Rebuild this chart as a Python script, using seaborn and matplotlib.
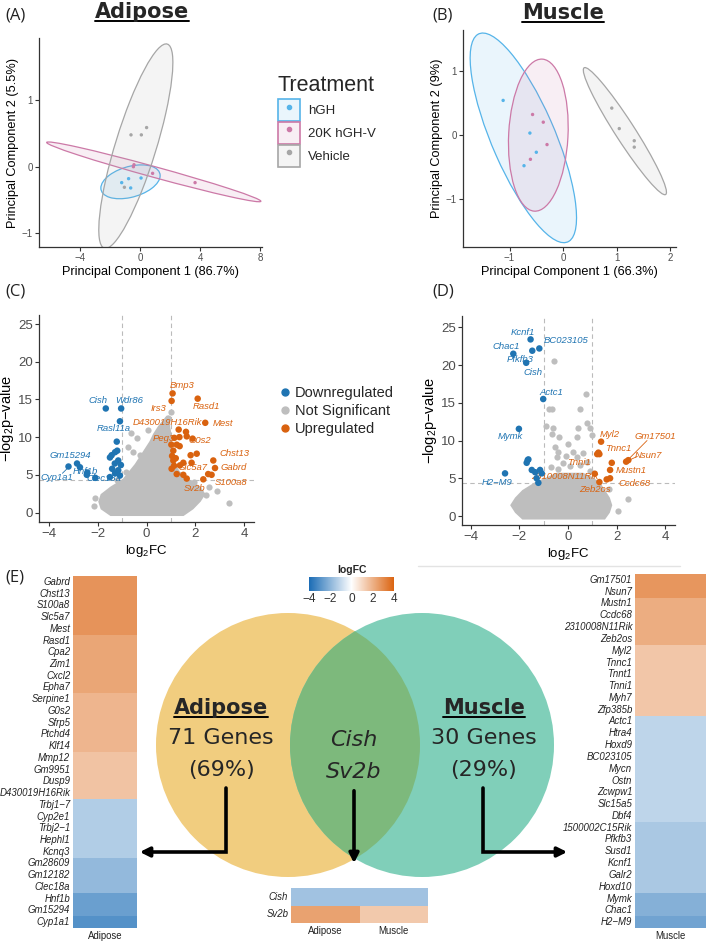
import numpy as np
import pandas as pd
import seaborn as sns
import matplotlib.pyplot as plt
from matplotlib.colors import LinearSegmentedColormap, to_rgba
from matplotlib.lines import Line2D
from matplotlib.patches import Circle, Ellipse, Patch

W, H = 709, 941

# ---------------- PCA scores (A adipose, B muscle) ----------------
treatments = ["hGH", "20K hGH-V", "Vehicle"]
pca_colors = ["#56B4E9", "#CC79A7", "#A6A6A6"]
pca_groups = ["hGH"] * 4 + ["20K hGH-V"] * 4 + ["Vehicle"] * 4
adipose_pc1 = [-1.22, -0.76, -0.62, 0.07, -0.44, -0.40, 0.84, 3.67, -0.60, 0.09, 0.44, -1.04]
adipose_pc2 = [-0.24, -0.18, -0.32, -0.17, 0.00, 0.03, -0.10, -0.24, 0.48, 0.48, 0.59, -0.31]
muscle_pc1 = [-1.12, -0.62, -0.50, -0.73, -0.57, -0.37, -0.30, -0.61, 0.91, 1.05, 1.33, 1.33]
muscle_pc2 = [0.54, 0.03, -0.27, -0.48, 0.32, 0.20, -0.15, -0.38, 0.42, 0.10, -0.09, -0.19]
ELLIPSE_R = 3.7  # radius of the confidence ellipse in sd units

# ---------------- volcano data ----------------
status_labels = ["Downregulated", "Not Significant", "Upregulated"]
vol_colors = ["#1F74B2", "#BEBEBE", "#D9620F"]

# adipose (C)
c_down_x = [-1.67, -1.04, -1.09, -1.22, -1.20, -1.43, -1.50, -1.29, -2.85, -2.73, -3.20, -2.43,
            -2.45, -2.10, -1.41, -1.16, -1.29, -1.09, -1.50, -1.16, -1.05, -1.30]
c_down_y = [13.8, 13.8, 12.1, 9.4, 8.2, 7.6, 7.3, 8.0, 6.5, 6.0, 6.1, 5.3,
            5.0, 4.6, 5.8, 5.6, 5.2, 4.9, 4.7, 6.9, 6.3, 6.5]
c_up_x = [1.07, 1.03, 2.10, 2.41, 1.32, 1.62, 1.65, 1.35, 1.14, 1.89, 1.24, 1.36, 1.81, 2.06,
          2.74, 2.81, 2.53, 2.67, 2.33, 1.85, 1.10, 1.13, 1.24, 1.51, 1.65, 1.03, 1.37, 1.51,
          1.05, 1.10, 1.02, 1.20]
c_up_y = [15.8, 14.8, 15.1, 11.9, 11.0, 10.7, 10.1, 10.0, 9.9, 9.8, 9.0, 8.8, 7.6, 7.8,
          6.9, 5.9, 5.1, 5.0, 4.4, 6.6, 6.9, 6.2, 5.1, 5.0, 4.5, 5.8, 6.25, 6.6,
          7.5, 8.2, 9.0, 7.2]
c_grey_x = [-0.64, -0.38, -0.75, -0.54, -0.27, 0.90, 1.00, 3.39, 2.88, 2.55, 2.45, -2.15, -2.10,
            -1.20, 1.95, 2.00, 0.05, -0.85]
c_grey_y = [10.6, 9.9, 8.7, 8.0, 7.6, 12.6, 13.3, 1.2, 2.9, 3.4, 2.3, 0.8, 1.9,
            4.3, 4.0, 3.2, 11.0, 5.4]
# envelope of the dense non-significant cloud
c_env_y = [-0.4, 0.5, 1.5, 2.5, 3.5, 4.5, 5.5, 6.5, 7.5, 8.5, 9.5, 10.5, 11.5, 12.3, 12.9]
c_env_left = [-1.5, -1.9, -2.0, -1.9, -1.5, -1.0, -0.75, -0.5, -0.3, -0.1, 0.1, 0.25, 0.45, 0.65, 0.8]
c_env_right = [1.5, 1.9, 2.2, 2.4, 2.2, 1.7, 1.35, 1.15, 1.05, 1.0, 1.0, 1.0, 0.95, 0.95, 0.9]
c_lab_gene = ["Cish", "Wdr86", "Rasl11a", "Gm15294", "Hnf1b", "Cyp1a1", "Clec18a",
              "Bmp3", "Irs3", "Rasd1", "D430019H16Rik", "Mest", "Peg3", "G0s2", "Chst13",
              "Slc5a7", "Gabrd", "S100a8", "Sv2b"]
c_lab_x = [-1.98, -0.72, -1.36, -3.13, -2.52, -3.67, -1.77,
           1.44, 0.51, 2.44, 0.85, 3.15, 0.69, 2.19, 3.60, 1.90, 3.56, 3.46, 1.99]
c_lab_y = [14.85, 14.85, 11.1, 7.6, 5.5, 4.6, 4.5,
           16.8, 13.8, 14.0, 11.9, 11.8, 9.8, 9.6, 7.8, 5.95, 5.95, 3.95, 3.15]
c_lab_dir = ["down"] * 7 + ["up"] * 12
c_links = [(-3.45, 5.2, -3.2, 6.0)]

# muscle (D)
d_down_x = [-1.54, -1.18, -1.47, -2.25, -1.72, -1.02, -2.02, -1.63, -1.66, -1.70, -2.59, -1.49,
            -1.15, -1.29, -1.22, -1.08, -1.35]
d_down_y = [23.4, 22.2, 21.9, 21.5, 20.3, 15.5, 11.55, 7.5, 7.4, 7.05, 5.65, 6.1,
            6.1, 5.0, 4.4, 5.65, 5.8]
d_up_x = [1.36, 1.25, 1.20, 1.29, 2.48, 2.39, 1.73, 1.80, 1.73, 1.29, 1.59, 1.10]
d_up_y = [9.85, 8.4, 8.2, 8.2, 7.4, 7.2, 6.1, 7.05, 5.0, 4.5, 4.85, 5.6]
d_grey_x = [-0.58, 0.73, -0.78, -0.67, 0.49, -0.92, -0.60, 0.42, 0.77, 0.90, 0.98, -0.67, -0.36,
            0.36, -0.53, -0.40, -0.47, 0.22, 0.36, 0.63, -0.20, 0.10, 0.50, 0.80, -0.70, -0.40,
            0.90, 2.48, 2.07, 1.70, 0.00, -0.10]
d_grey_y = [20.5, 16.2, 14.2, 14.2, 14.2, 11.9, 11.7, 11.7, 12.3, 11.6, 10.7, 10.9, 10.5,
            10.5, 9.2, 8.5, 7.85, 8.5, 7.85, 8.3, 7.0, 6.6, 6.8, 7.2, 6.5, 6.2,
            6.0, 2.3, 0.6, 3.6, 9.5, 8.0]
d_env_y = [-0.4, 0.5, 1.5, 2.5, 3.5, 4.5, 5.2, 5.8]
d_env_left = [-1.9, -2.2, -2.4, -2.2, -1.9, -1.4, -0.9, -0.5]
d_env_right = [1.5, 1.7, 1.8, 1.7, 1.5, 1.3, 1.0, 0.6]
d_lab_gene = ["Kcnf1", "BC023105", "Chac1", "Pfkfb3", "Cish", "Actc1", "Mymk", "H2\u2212M9",
              "Myl2", "Gm17501", "Tnnc1", "Nsun7", "Tnni1", "Mustn1", "2310008N11Rik",
              "Ccdc68", "Zeb2os"]
d_lab_x = [-1.86, -0.09, -2.55, -1.98, -1.43, -0.67, -2.36, -2.93,
           1.73, 3.58, 2.07, 3.30, 0.45, 2.58, -0.12, 2.72, 1.11]
d_lab_y = [24.3, 23.2, 22.5, 20.7, 19.0, 16.4, 10.5, 4.45,
           10.8, 10.6, 9.0, 8.05, 7.1, 6.0, 5.3, 4.3, 3.5]
d_lab_dir = ["down"] * 8 + ["up"] * 9
d_links = [(3.25, 10.0, 2.45, 7.4), (2.85, 7.9, 2.55, 7.45)]

# ---------------- heatmaps (logFC) ----------------
adipose_genes = ["Gabrd", "Chst13", "S100a8", "Slc5a7", "Mest", "Rasd1", "Cpa2", "Zim1", "Cxcl2",
                 "Epha7", "Serpine1", "G0s2", "Sfrp5", "Ptchd4", "Klf14", "Mmp12", "Gm9951",
                 "Dusp9", "D430019H16Rik", "Trbj1\u22127", "Cyp2e1", "Trbj2\u22121", "Hephl1",
                 "Kcnq3", "Gm28609", "Gm12182", "Clec18a", "Hnf1b", "Gm15294", "Cyp1a1"]
adipose_fc = [2.75, 2.75, 2.75, 2.75, 2.75, 2.3, 2.3, 2.3, 2.3, 2.3, 1.9, 1.9, 1.9, 1.9, 1.9,
              1.55, 1.55, 1.55, 1.55, -1.35, -1.35, -1.35, -1.35, -1.35, -1.9, -1.9, -1.9,
              -2.6, -2.6, -3.0]
muscle_genes = ["Gm17501", "Nsun7", "Mustn1", "Ccdc68", "2310008N11Rik", "Zeb2os", "Myl2", "Tnnc1",
                "Tnnt1", "Tnni1", "Myh7", "Zfp385b", "Actc1", "Htra4", "Hoxd9", "BC023105", "Mycn",
                "Ostn", "Zcwpw1", "Slc15a5", "Dbf4", "1500002C15Rik", "Pfkfb3", "Susd1", "Kcnf1",
                "Galr2", "Hoxd10", "Mymk", "Chac1", "H2\u2212M9"]
muscle_fc = [2.7, 2.7, 2.1, 2.1, 2.1, 2.1, 1.45, 1.45, 1.45, 1.45, 1.45, 1.45,
             -1.15, -1.15, -1.15, -1.15, -1.15, -1.15, -1.15, -1.15, -1.15,
             -1.5, -1.5, -1.5, -1.5, -1.5, -1.5, -2.15, -2.15, -2.5]
shared_genes = ["Cish", "Sv2b"]
shared_adipose_fc = [-1.65, 2.4]
shared_muscle_fc = [-1.65, 1.4]

# ---------------- venn ----------------
venn_sets = ["Adipose", "Muscle"]
venn_only = [71, 30]
venn_pct = [69, 29]

sns.set_theme(style="white")
plt.rcParams["font.family"] = ["Liberation Sans", "DejaVu Sans"]
plt.rcParams["mathtext.fontset"] = "custom"
plt.rcParams["mathtext.rm"] = "Liberation Sans"
plt.rcParams["mathtext.it"] = "Liberation Sans:italic"

cmap = LinearSegmentedColormap.from_list("logfc", ["#1B6CB5", "#FFFFFF", "#DB6411"])

fig = plt.figure(figsize=(W / 100, H / 100), dpi=100)
bg = fig.add_axes([0, 0, 1, 1], zorder=-1)
bg.set_xlim(0, W)
bg.set_ylim(H, 0)
bg.axis("off")


def fig_axes(left, top, right, bottom):
    return fig.add_axes([left / W, 1 - bottom / H, (right - left) / W, (bottom - top) / H])


def style_axes(ax, size):
    sns.despine(ax=ax)
    for s in ("left", "bottom"):
        ax.spines[s].set_color("#333333")
        ax.spines[s].set_linewidth(0.9)
    ax.tick_params(axis="both", length=3, width=0.8, color="#333333", labelcolor="#4D4D4D",
                   labelsize=size, pad=1.5, left=True, bottom=True)
    ax.grid(False)


def pca_panel(ax, pc1, pc2, xlim, ylim, xticks, xlabel, ylabel):
    df = pd.DataFrame({"PC1": pc1, "PC2": pc2, "Treatment": pca_groups})
    for grp, col in zip(treatments, pca_colors):
        pts = df.loc[df.Treatment == grp, ["PC1", "PC2"]].to_numpy()
        vals, vecs = np.linalg.eigh(np.cov(pts, rowvar=False))
        ang = np.degrees(np.arctan2(vecs[1, 1], vecs[0, 1]))
        ax.add_patch(Ellipse(pts.mean(axis=0), 2 * ELLIPSE_R * np.sqrt(vals[1]),
                             2 * ELLIPSE_R * np.sqrt(vals[0]), angle=ang,
                             facecolor=to_rgba(col, 0.12), edgecolor=col, lw=0.9))
    sns.scatterplot(data=df, x="PC1", y="PC2", hue="Treatment", hue_order=treatments,
                    palette=pca_colors, s=6, linewidth=0, legend=False, ax=ax, zorder=3)
    ax.set_xlim(*xlim)
    ax.set_ylim(*ylim)
    ax.set_xticks(xticks)
    ax.set_yticks([-1, 0, 1])
    style_axes(ax, 7)
    ax.set_xlabel(xlabel, fontsize=9.2, color="black", labelpad=2)
    ax.set_ylabel(ylabel, fontsize=9.2, color="black", labelpad=2)


def volcano(ax, dx, dy, ux, uy, gx, gy, env_y, env_l, env_r, genes, lx, ly, ldir, links, xlim, ylim):
    ax.axvline(-1, color="#BBBBBB", lw=0.8, ls=(0, (4, 3)), zorder=0)
    ax.axvline(1, color="#BBBBBB", lw=0.8, ls=(0, (4, 3)), zorder=0)
    ax.axhline(-np.log2(0.05), color="#BBBBBB", lw=0.8, ls=(0, (4, 3)), zorder=0)
    ax.fill_betweenx(env_y, env_l, env_r, color=vol_colors[1], lw=0, zorder=1)
    grey = pd.DataFrame({"log2FC": gx, "nlp": gy})
    sns.scatterplot(data=grey, x="log2FC", y="nlp", color=vol_colors[1], s=20, linewidth=0,
                    ax=ax, zorder=1)
    sig = pd.DataFrame({"log2FC": dx + ux, "nlp": dy + uy,
                        "status": ["Downregulated"] * len(dx) + ["Upregulated"] * len(ux)})
    sns.scatterplot(data=sig, x="log2FC", y="nlp", hue="status",
                    palette={"Downregulated": vol_colors[0], "Upregulated": vol_colors[2]},
                    s=22, linewidth=0, legend=False, ax=ax, zorder=3)
    for g, x, y, d in zip(genes, lx, ly, ldir):
        ax.text(x, y, g, color=vol_colors[0] if d == "down" else vol_colors[2],
                style="italic", fontsize=6.8, ha="center", va="center", zorder=2)
    for x0, y0, x1, y1 in links:
        ax.plot([x0, x1], [y0, y1], color=vol_colors[2] if x1 > 0 else vol_colors[0], lw=0.6, zorder=2)
    ax.set_xlim(*xlim)
    ax.set_ylim(*ylim)
    ax.set_xticks([-4, -2, 0, 2, 4])
    ax.set_yticks([0, 5, 10, 15, 20, 25])
    style_axes(ax, 9.5)
    ax.set_xlabel("log$_2$FC", fontsize=9.5, color="black", labelpad=2)
    ax.set_ylabel("\u2212log$_2$p\u2212value", fontsize=10.5, color="black", labelpad=1)


# panels A and B
axA = fig_axes(39, 38, 262, 247)
pca_panel(axA, adipose_pc1, adipose_pc2, (-6.73, 8.13), (-1.21, 1.94), [-4, 0, 4, 8],
          "Principal Component 1 (86.7%)", "Principal Component 2 (5.5%)")
axB = fig_axes(463, 30, 676, 247)
pca_panel(axB, muscle_pc1, muscle_pc2, (-1.87, 2.11), (-1.75, 1.64), [-1, 0, 1, 2],
          "Principal Component 1 (66.3%)", "Principal Component 2 (9%)")

# panels C and D
axC = fig_axes(39, 315, 254, 522)
volcano(axC, c_down_x, c_down_y, c_up_x, c_up_y, c_grey_x, c_grey_y, c_env_y, c_env_left,
        c_env_right, c_lab_gene, c_lab_x, c_lab_y, c_lab_dir, c_links, (-4.41, 4.41), (-1.26, 26.2))
axD = fig_axes(462, 316, 675, 525)
volcano(axD, d_down_x, d_down_y, d_up_x, d_up_y, d_grey_x, d_grey_y, d_env_y, d_env_left,
        d_env_right, d_lab_gene, d_lab_x, d_lab_y, d_lab_dir, d_links, (-4.36, 4.4), (-1.19, 26.5))

# legends
bg.text(278, 85, "Treatment", ha="left", va="center", fontsize=15.5)
pca_handles = [(Patch(facecolor=to_rgba(c, 0.12), edgecolor=c, lw=1.2),
                Line2D([], [], ls="", marker="o", ms=3, color=c)) for c in pca_colors]
fig.legend(pca_handles, treatments, loc="upper left",
           bbox_to_anchor=(278 / W, 1 - 99 / H), frameon=False, fontsize=9.5,
           handlelength=1.7, handleheight=2.2, labelspacing=0.05, handletextpad=0.6,
           borderpad=0, borderaxespad=0)
vol_handles = [Line2D([], [], ls="", marker="o", ms=5, color=c) for c in vol_colors]
fig.legend(vol_handles, status_labels, loc="center left", bbox_to_anchor=(281 / W, 1 - 411 / H),
           frameon=False, fontsize=10.5, handlelength=0.6, handletextpad=0.35, labelspacing=0.3,
           borderpad=0, borderaxespad=0)

# heatmaps
def gene_heatmap(ax, df):
    sns.heatmap(df, ax=ax, cmap=cmap, vmin=-4, vmax=4, cbar=False, xticklabels=True, yticklabels=True)
    ax.tick_params(length=0, labelsize=6.9, pad=2, labelcolor="#222222")
    ax.set_ylabel("")
    for t in ax.get_yticklabels():
        t.set_style("italic")
        t.set_rotation(0)
    for t in ax.get_xticklabels():
        t.set_rotation(0)


axL = fig_axes(73, 576, 137, 928)
gene_heatmap(axL, pd.DataFrame({"Adipose": adipose_fc}, index=adipose_genes))
axR = fig_axes(635, 574, 706, 928)
gene_heatmap(axR, pd.DataFrame({"Muscle": muscle_fc}, index=muscle_genes))
axS = fig_axes(291, 888, 428, 923)
gene_heatmap(axS, pd.DataFrame({"Adipose": shared_adipose_fc, "Muscle": shared_muscle_fc},
                               index=shared_genes))

# colour bar
cax = fig_axes(309, 577, 394, 591)
sm = plt.cm.ScalarMappable(cmap=cmap, norm=plt.Normalize(-4, 4))
cb = fig.colorbar(sm, cax=cax, orientation="horizontal", ticks=[-4, -2, 0, 2, 4])
cb.outline.set_visible(False)
cax.tick_params(length=3, width=0.8, color="white", direction="in", labelsize=8.5, pad=1.5,
                labelcolor="#333333", top=True, bottom=True)
cax.set_title("logFC", fontsize=7.5, fontweight="bold", pad=3)

# venn diagram
left_c = Circle((288, 745), 132, facecolor="#F1CD7F", lw=0)
right_c = Circle((422, 745), 132, facecolor="#80CFB9", lw=0)
bg.add_patch(left_c)
bg.add_patch(right_c)
inter = Circle((288, 745), 132, facecolor="#7DB97C", lw=0)
bg.add_patch(inter)
inter.set_clip_path(right_c)

venn_titles = []
for name, n, p, cx in zip(venn_sets, venn_only, venn_pct, [221, 484]):
    venn_titles.append(bg.text(cx, 714, name, ha="center", va="baseline", fontsize=15,
                               fontweight="bold", family="DejaVu Sans"))
    bg.text(cx, 738, f"{n} Genes", ha="center", va="center", fontsize=16, family="DejaVu Sans")
    bg.text(cx, 770, f"({p}%)", ha="center", va="center", fontsize=16, family="DejaVu Sans")
for g, y in zip(shared_genes, [740, 772]):
    bg.text(354, y, g, ha="center", va="center", fontsize=16, style="italic", family="DejaVu Sans")

# arrows
bg.plot([226, 226, 150], [788, 852, 852], color="black", lw=2.6, solid_joinstyle="miter")
bg.annotate("", xy=(137, 852), xytext=(152, 852),
            arrowprops=dict(arrowstyle="-|>", color="black", lw=2.6, mutation_scale=14))
bg.plot([483, 483, 557], [788, 852, 852], color="black", lw=2.6, solid_joinstyle="miter")
bg.annotate("", xy=(570, 852), xytext=(555, 852),
            arrowprops=dict(arrowstyle="-|>", color="black", lw=2.6, mutation_scale=14))
bg.annotate("", xy=(354, 866), xytext=(354, 788),
            arrowprops=dict(arrowstyle="-|>", color="black", lw=2.6, mutation_scale=14))

bg.plot([418, 680], [566, 566], color="#E3E3E3", lw=1)

# panel letters and titles
for lab, x, y in [("(A)", 5, 15), ("(B)", 432, 15), ("(C)", 5, 292), ("(D)", 432, 292), ("(E)", 5, 577)]:
    bg.text(x, y, lab, ha="left", va="center", fontsize=12, family="Open Sans", color="#222222")
top_titles = [bg.text(142, 18, "Adipose", ha="center", va="baseline", fontsize=15,
                      fontweight="bold", family="DejaVu Sans"),
              bg.text(563, 19, "Muscle", ha="center", va="baseline", fontsize=15,
                      fontweight="bold", family="DejaVu Sans")]

# underline the bold titles
fig.canvas.draw()
inv = bg.transData.inverted()
for t in top_titles + venn_titles:
    bb = t.get_window_extent()
    (x0, _), (x1, _) = inv.transform([(bb.x0, bb.y0), (bb.x1, bb.y0)])
    y = t.get_position()[1] + 3
    bg.plot([x0, x1], [y, y], color="black", lw=1.4)

fig.savefig("out.png", dpi=100)
